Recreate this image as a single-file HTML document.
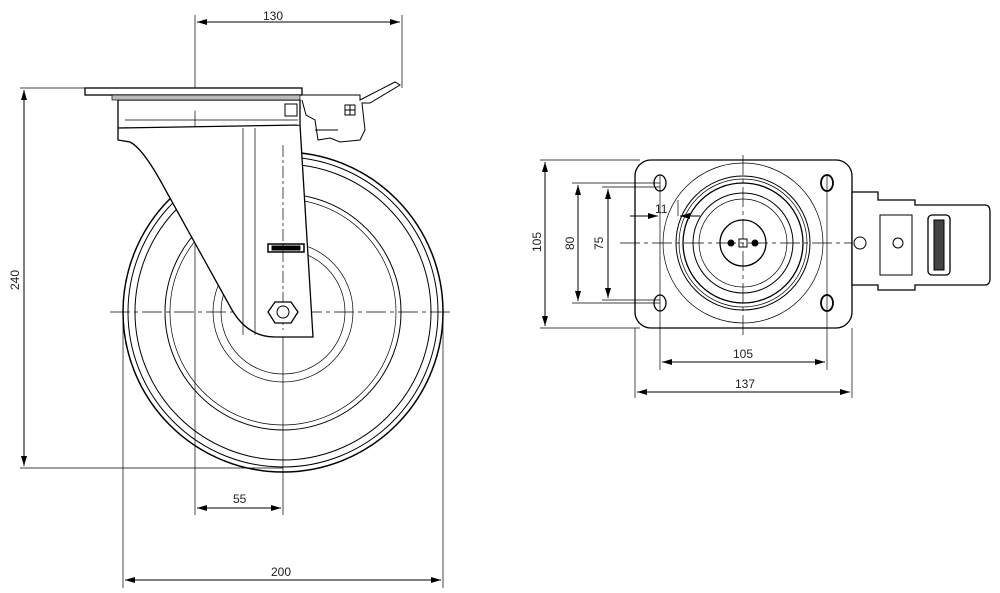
<!DOCTYPE html>
<html><head><style>body{margin:0;background:#fff}svg{display:block}text{font-family:"Liberation Sans",sans-serif;font-size:12px;fill:#222}</style></head><body>
<svg width="1000" height="593" viewBox="0 0 1000 593" xmlns="http://www.w3.org/2000/svg">
<defs><marker id="a" viewBox="0 0 10 6" refX="10" refY="3" markerWidth="10" markerHeight="6" orient="auto-start-reverse"><path d="M0,0L10,3L0,6z" fill="#000"/></marker></defs>
<g fill="none" stroke="#000" stroke-width="1">
<!-- left view dimensions -->
<line x1="20" y1="88" x2="85" y2="88" stroke-width=".7"/><line x1="20" y1="468" x2="283" y2="468" stroke-width=".7"/>
<line x1="24" y1="90" x2="24" y2="466" marker-start="url(#a)" marker-end="url(#a)"/>
<line x1="195" y1="15" x2="195" y2="515" stroke-width=".7"/><line x1="402" y1="15" x2="402" y2="88" stroke-width=".7"/>
<line x1="197" y1="22" x2="400" y2="22" marker-start="url(#a)" marker-end="url(#a)"/>
<line x1="283" y1="330" x2="283" y2="515" stroke-width=".7"/>
<line x1="197" y1="508" x2="281" y2="508" marker-start="url(#a)" marker-end="url(#a)"/>
<line x1="123" y1="312" x2="123" y2="588" stroke-width=".7"/><line x1="443" y1="312" x2="443" y2="588" stroke-width=".7"/>
<line x1="125" y1="580" x2="441" y2="580" marker-start="url(#a)" marker-end="url(#a)"/>
<!-- wheel -->
<circle cx="283" cy="312" r="160" stroke-width="1.5"/><circle cx="283" cy="312" r="155"/><circle cx="283" cy="312" r="148"/>
<circle cx="283" cy="312" r="118"/><circle cx="283" cy="312" r="113" stroke-width=".7"/><circle cx="283" cy="312" r="70" stroke-width=".7"/><circle cx="283" cy="312" r="62" stroke-width=".7"/>
<line x1="110" y1="312" x2="450" y2="312" stroke-dasharray="20,4,4,4" stroke-width=".7"/>
<!-- fork -->
<path d="M118,100 L118,140 L130,142 Q142,148 160,180 L232,310 Q248,337 275,337 L313,337 L300,125 L118,128" fill="#fff" stroke-width="1.3"/>
<path d="M118,100 L300,100 L300,125" fill="#fff" stroke-width="1.3"/>
<line x1="125" y1="120" x2="298" y2="120" stroke-width=".7"/>
<line x1="243" y1="128" x2="243" y2="335" stroke-width=".7"/><line x1="255" y1="128" x2="255" y2="335" stroke-width=".7"/>
<line x1="283" y1="145" x2="283" y2="330" stroke-dasharray="12,3,3,3" stroke-width=".7"/>
<rect x="268" y="244" width="36" height="8" stroke-width="1.5"/><rect x="272" y="246" width="28" height="4" fill="#000"/>
<polygon points="275,302 291,302 298,312 291,323 275,323 268,312" fill="#fff" stroke-width="1.3"/><circle cx="283" cy="312" r="6"/>
<!-- plate -->
<rect x="85" y="88" width="217" height="7" fill="#fff" stroke-width="1.3"/>
<rect x="112" y="95" width="188" height="5" fill="#bbb" stroke-width=".7"/>
<!-- brake mechanism -->
<path d="M302,95 L360,95 L360,100 L395,82 L400,85 L370,103 L362,103 L365,130 L360,140 L340,142 L330,138 L318,140 L315,120 L306,115 L302,100" fill="#fff"/>
<rect x="345" y="105" width="10" height="10"/><line x1="350" y1="105" x2="350" y2="115"/><line x1="345" y1="110" x2="355" y2="110"/>
<line x1="315" y1="130" x2="338" y2="130"/><rect x="285" y="104" width="12" height="12"/>
<!-- right view dimensions -->
<line x1="540" y1="160" x2="640" y2="160" stroke-width=".7"/><line x1="540" y1="328" x2="640" y2="328" stroke-width=".7"/>
<line x1="545" y1="162" x2="545" y2="326" marker-start="url(#a)" marker-end="url(#a)"/>
<line x1="572" y1="183" x2="660" y2="183" stroke-width=".7"/><line x1="572" y1="303" x2="660" y2="303" stroke-width=".7"/>
<line x1="578" y1="185" x2="578" y2="301" marker-start="url(#a)" marker-end="url(#a)"/>
<line x1="602" y1="187" x2="660" y2="187" stroke-width=".7"/><line x1="602" y1="300" x2="660" y2="300" stroke-width=".7"/>
<line x1="608" y1="189" x2="608" y2="298" marker-start="url(#a)" marker-end="url(#a)"/>
<line x1="630" y1="216" x2="658" y2="216" marker-end="url(#a)"/><line x1="678" y1="200" x2="678" y2="216" stroke-width=".7"/><line x1="680" y1="216" x2="700" y2="216" marker-start="url(#a)"/>
<line x1="660" y1="175" x2="660" y2="370" stroke-width=".7"/><line x1="827" y1="175" x2="827" y2="370" stroke-width=".7"/>
<line x1="662" y1="362" x2="825" y2="362" marker-start="url(#a)" marker-end="url(#a)"/>
<line x1="635" y1="328" x2="635" y2="398" stroke-width=".7"/><line x1="852" y1="328" x2="852" y2="398" stroke-width=".7"/>
<line x1="637" y1="392" x2="850" y2="392" marker-start="url(#a)" marker-end="url(#a)"/>
<!-- plate top view -->
<rect x="635" y="160" width="217" height="168" rx="16" stroke-width="1.3"/>
<circle cx="743" cy="243" r="80" stroke-width=".7"/><circle cx="743" cy="243" r="67"/><circle cx="743" cy="243" r="64" stroke-width=".7"/><circle cx="743" cy="243" r="60" stroke-width="1.3"/>
<circle cx="743" cy="243" r="50"/><circle cx="743" cy="243" r="44" stroke-width=".7"/><circle cx="743" cy="243" r="23" stroke-width="1.3"/>
<rect x="739" y="239" width="8" height="8"/><circle cx="731" cy="243" r="3" fill="#000"/><circle cx="755" cy="243" r="3" fill="#000"/>
<ellipse cx="660" cy="183" rx="6" ry="8" stroke-width="1.3"/><ellipse cx="827" cy="183" rx="6" ry="8" stroke-width="1.8"/>
<ellipse cx="660" cy="303" rx="6" ry="8" stroke-width="1.3"/><ellipse cx="827" cy="303" rx="6" ry="8" stroke-width="1.8"/>
<line x1="620" y1="243" x2="985" y2="243" stroke-dasharray="20,4,4,4" stroke-width=".7"/>
<line x1="743" y1="155" x2="743" y2="335" stroke-dasharray="20,4,4,4" stroke-width=".7"/>
<!-- brake top -->
<path d="M852,192 L878,192 L878,200 L915,200 L915,205 L985,205 Q990,205 990,212 L990,278 Q990,285 985,285 L915,285 L915,290 L878,290 L878,285 L852,285 Z" fill="#fff" stroke-width="1.3"/>
<rect x="880" y="215" width="32" height="60"/><rect x="928" y="215" width="22" height="60" rx="4" stroke-width="1.3"/><rect x="934" y="220" width="10" height="50" fill="#444"/>
<circle cx="860" cy="243" r="6"/><circle cx="898" cy="243" r="5"/>
</g>
<text x="263" y="20">130</text><text x="233" y="503">55</text><text x="271" y="576">200</text>
<text transform="translate(19,290) rotate(-90)">240</text>
<text transform="translate(541,252) rotate(-90)">105</text><text transform="translate(574,250) rotate(-90)">80</text><text transform="translate(603,250) rotate(-90)">75</text>
<text x="655" y="213">11</text><text x="733" y="358">105</text><text x="735" y="388">137</text>
</svg></body></html>
